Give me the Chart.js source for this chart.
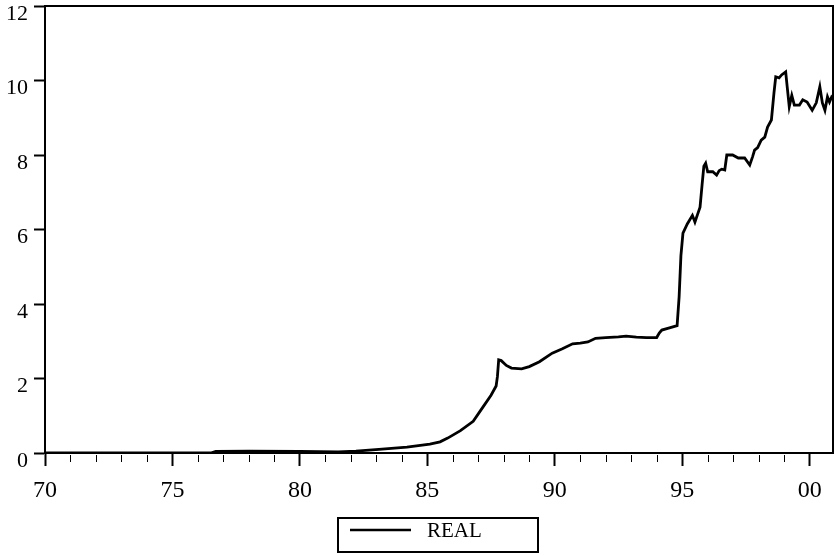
<!DOCTYPE html>
<html>
<head>
<meta charset="utf-8">
<script src="https://cdn.jsdelivr.net/npm/chart.js@4.4.1/dist/chart.umd.min.js"></script>
<style>
html,body{margin:0;padding:0;background:#fff;}
#wrap{width:835px;height:556px;}
</style>
</head>
<body>
<div id="wrap"><canvas id="c" width="835" height="556"></canvas></div>
<script>
const dates = [
  1970.0, 1976.5, 1976.7, 1978.0, 1980.0, 1981.5, 1982.2, 1983.1, 1984.2, 1985.1,
  1985.5, 1985.8, 1986.3, 1986.8, 1987.1, 1987.5, 1987.7, 1987.75, 1987.8, 1987.9,
  1988.1, 1988.3, 1988.7, 1989.0, 1989.4, 1989.9, 1990.3, 1990.7, 1991.0, 1991.3,
  1991.6, 1992.0, 1992.5, 1992.8, 1993.2, 1993.6, 1994.0, 1994.1, 1994.2, 1994.5,
  1994.8, 1994.88, 1994.95, 1995.03, 1995.2, 1995.4, 1995.5, 1995.6, 1995.7, 1995.78,
  1995.85, 1995.92, 1996.0, 1996.2, 1996.35, 1996.45, 1996.55, 1996.67, 1996.75, 1996.98,
  1997.2, 1997.45, 1997.65, 1997.76, 1997.84, 1997.96, 1998.1, 1998.24, 1998.35, 1998.5,
  1998.6, 1998.67, 1998.8, 1998.9, 1999.06, 1999.12, 1999.2, 1999.3, 1999.4, 1999.6,
  1999.73, 1999.9, 2000.1, 2000.26, 2000.4, 2000.5, 2000.6, 2000.7, 2000.78, 2000.86,
  2000.917
];
// REAL series values at those dates
const realValues = [
  0.00, 0.00, 0.04, 0.05, 0.04, 0.03, 0.05, 0.10, 0.16, 0.24,
  0.30, 0.40, 0.60, 0.85, 1.15, 1.55, 1.80, 2.05, 2.50, 2.48,
  2.35, 2.28, 2.26, 2.32, 2.45, 2.68, 2.80, 2.93, 2.95, 2.98,
  3.08, 3.10, 3.12, 3.14, 3.11, 3.10, 3.10, 3.22, 3.30, 3.36,
  3.42, 4.20, 5.30, 5.90, 6.15, 6.38, 6.20, 6.40, 6.60, 7.20,
  7.70, 7.78, 7.55, 7.55, 7.46, 7.58, 7.62, 7.60, 8.00, 8.00,
  7.92, 7.92, 7.73, 7.95, 8.13, 8.20, 8.40, 8.48, 8.75, 8.94,
  9.66, 10.10, 10.07, 10.15, 10.23, 9.83, 9.30, 9.60, 9.34, 9.34,
  9.48, 9.42, 9.20, 9.40, 9.83, 9.40, 9.20, 9.56, 9.42, 9.55,
  9.50
];
const seriesName = 'REAL';
const yTicks = [0, 2, 4, 6, 8, 10, 12];
const xMajorYears = [1970, 1975, 1980, 1985, 1990, 1995, 2000];

const FONT = "'Liberation Serif', 'Times New Roman', serif";

const points = dates.map((d, i) => ({x: d, y: realValues[i]}));

const framePlugin = {
  id: 'frame',
  afterDraw(chart) {
    const {ctx, chartArea: a} = chart;
    const xs = chart.scales.x;
    ctx.save();
    ctx.strokeStyle = '#000';
    ctx.lineWidth = 2;
    ctx.strokeRect(a.left, a.top, a.right - a.left, a.bottom - a.top);
    // minor year ticks
    ctx.lineWidth = 1;
    for (let yr = 1971; yr <= 2000; yr++) {
      if (yr % 5 === 0) continue;
      const px = Math.round(xs.getPixelForValue(yr)) + 0.5;
      ctx.beginPath();
      ctx.moveTo(px, a.bottom + 2);
      ctx.lineTo(px, a.bottom + 9);
      ctx.stroke();
    }
    // legend
    const lx = 338, ly = 518, lw = 200, lh = 34;
    ctx.lineWidth = 2;
    ctx.strokeRect(lx, ly, lw, lh);
    ctx.lineWidth = 2.5;
    ctx.beginPath();
    ctx.moveTo(350, 530);
    ctx.lineTo(411, 530);
    ctx.stroke();
    ctx.fillStyle = '#000';
    ctx.font = '21px ' + FONT;
    ctx.textBaseline = 'middle';
    ctx.textAlign = 'left';
    ctx.fillText(chart.data.datasets[0].label, 427, 531);
    ctx.restore();
  }
};

new Chart(document.getElementById('c'), {
  type: 'line',
  data: {
    datasets: [{
      label: seriesName,
      data: points,
      borderColor: '#000',
      borderWidth: 2.8,
      pointRadius: 0,
      tension: 0,
      fill: false
    }]
  },
  options: {
    responsive: false,
    animation: false,
    devicePixelRatio: 1,
    layout: {padding: {top: 6, right: 2, left: 0, bottom: 0}},
    plugins: {legend: {display: false}, tooltip: {enabled: false}},
    scales: {
      x: {
        type: 'linear',
        min: 1970,
        max: 2000 + 11 / 12,
        afterFit(s) { s.height = 103; s.paddingLeft = 0; s.paddingRight = 0; },
        border: {display: true, color: '#000', width: 2},
        grid: {
          drawOnChartArea: false,
          tickLength: 13,
          tickWidth: 2,
          tickColor: (c) => (c.tick && xMajorYears.includes(c.tick.value)) ? '#000' : 'rgba(0,0,0,0)'
        },
        ticks: {
          stepSize: 1,
          autoSkip: false,
          includeBounds: false,
          maxRotation: 0,
          padding: 10,
          color: '#000',
          font: {family: FONT, size: 24},
          callback: (v) => xMajorYears.includes(v) ? String(v % 100).padStart(2, '0') : ''
        }
      },
      y: {
        min: 0,
        max: 12,
        afterFit(s) { s.width = 45; s.paddingTop = 0; s.paddingBottom = 0; },
        afterBuildTicks(s) { s.ticks = yTicks.map(v => ({value: v})); },
        border: {display: true, color: '#000', width: 2},
        grid: {drawOnChartArea: false, tickLength: 11, tickWidth: 2, tickColor: '#000'},
        ticks: {
          padding: 6,
          labelOffset: 8,
          color: '#000',
          font: {family: FONT, size: 22},
          callback: (v) => String(v)
        }
      }
    }
  },
  plugins: [framePlugin]
});
</script>
</body>
</html>
